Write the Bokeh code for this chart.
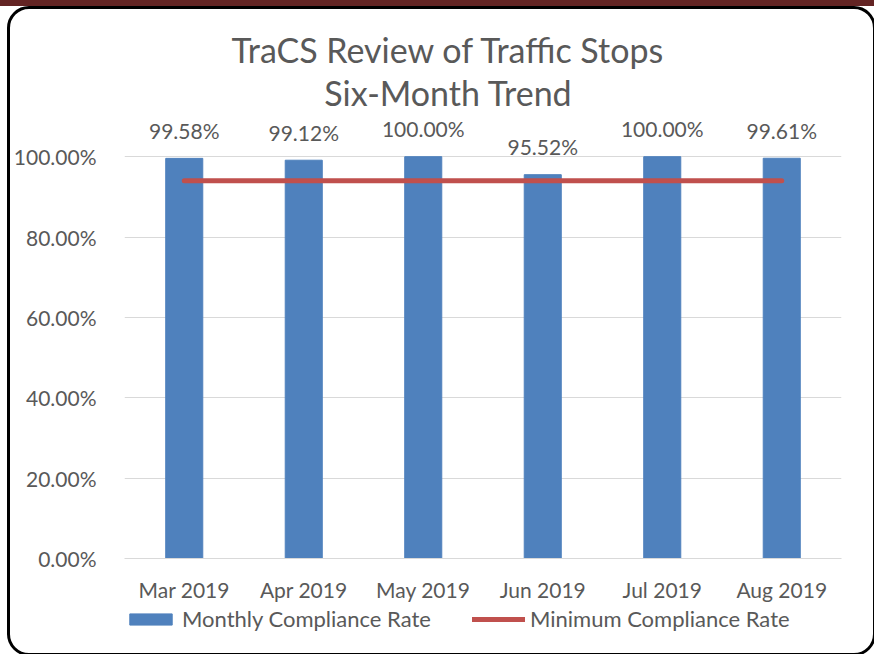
from bokeh.plotting import figure
from bokeh.models import (FactorRange, FixedTicker, NumeralTickFormatter, Legend,
                          LegendItem, Div)
from bokeh.layouts import column
from bokeh.core.properties import value
from bokeh.embed import file_html
from bokeh.resources import INLINE

# ---- data ----
months = ["Mar 2019", "Apr 2019", "May 2019", "Jun 2019", "Jul 2019", "Aug 2019"]
compliance = [0.9958, 0.9912, 1.0000, 0.9552, 1.0000, 0.9961]
compliance_labels = ["99.58%", "99.12%", "100.00%", "95.52%", "100.00%", "99.61%"]
minimum = [0.94, 0.94, 0.94, 0.94, 0.94, 0.94]
y_ticks = [0.0, 0.2, 0.4, 0.6, 0.8, 1.0]
title_lines = ["TraCS Review of Traffic Stops", "Six-Month Trend"]
series_names = ["Monthly Compliance Rate", "Minimum Compliance Rate"]

FONT = "Lato"
TXT = "#595959"
BAR = "#4f81bd"
RED = "#c0504d"

FL, FRM = 112, 32        # left/right border around plot frames
FW, FH = 717, 442        # main plot frame size
TITLE_H = 107            # title strip height
BOT = 42                 # space for x tick labels
LEG_H = 49               # legend strip height


def strip(height, x_range, y_range):
    f = figure(frame_width=FW, frame_height=height, x_range=x_range, y_range=y_range,
               x_axis_type=None, y_axis_type=None, output_backend="svg",
               toolbar_location=None, title=None,
               min_border_left=FL, min_border_right=FRM,
               min_border_top=0, min_border_bottom=0,
               border_fill_color=None, background_fill_color=None)
    f.outline_line_color = None
    f.grid.visible = False
    return f


# ---- title strip (x, y in pixels of the strip's frame) ----
pt = strip(TITLE_H, (0, FW), (0, TITLE_H))
pt.text(x=[324, 324], y=[67, 24], text=title_lines, text_align="center",
        text_baseline="alphabetic", text_font=value(FONT), text_font_size="34px",
        text_color=TXT)

# ---- main chart ----
p = figure(frame_width=FW, frame_height=FH,
           x_range=FactorRange(*months, range_padding=0),
           y_range=(0, 1.1), output_backend="svg", toolbar_location=None,
           min_border_left=FL, min_border_right=FRM,
           min_border_top=0, min_border_bottom=BOT,
           background_fill_color="white", border_fill_color=None, title=None)
p.outline_line_color = None

p.vbar(x=months, top=compliance, width=0.31, fill_color=BAR, line_color=BAR)
p.line(x=months, y=minimum, line_color=RED, line_width=5, line_cap="round")
p.text(x=months, y=compliance, text=compliance_labels, text_align="center",
       text_baseline="alphabetic", y_offset=-28, text_font=value(FONT),
       text_font_size="21px", text_color=TXT)

p.yaxis.ticker = FixedTicker(ticks=y_ticks)
p.yaxis.formatter = NumeralTickFormatter(format="0.00%")
p.yaxis.axis_line_color = None
p.yaxis.major_tick_line_color = None
p.yaxis.minor_tick_line_color = None
p.yaxis.major_label_standoff = 22
p.xaxis.axis_line_color = "#d9d9d9"
p.xaxis.major_tick_line_color = None
p.xaxis.major_label_standoff = 12
for ax in (p.xaxis[0], p.yaxis[0]):
    ax.major_label_text_font = FONT
    ax.major_label_text_font_size = "21px"
    ax.major_label_text_color = TXT
p.xgrid.grid_line_color = None
p.ygrid.grid_line_color = "#d9d9d9"
p.ygrid.ticker = FixedTicker(ticks=y_ticks)

# ---- legend strip (hidden proxy renderers carry the legend styles) ----
pl = strip(LEG_H, FactorRange(*months, range_padding=0), (0, 1.1))
r_bar = pl.vbar(x=months, top=compliance, width=0.31, fill_color=BAR,
                line_color=BAR, visible=False)
r_line = pl.line(x=months, y=minimum, line_color=RED, line_width=5,
                 line_cap="round", visible=False)
legend = Legend(items=[LegendItem(label=series_names[0], renderers=[r_bar]),
                       LegendItem(label=series_names[1], renderers=[r_line])],
                orientation="horizontal", location=(0, 21),
                padding=0, margin=0, spacing=41, glyph_width=53, glyph_height=14,
                label_standoff=5, border_line_color=None, background_fill_alpha=0,
                inactive_fill_alpha=0,
                label_text_font=FONT, label_text_font_size="22px",
                label_text_color=TXT)
pl.add_layout(legend, "center")

band = Div(width=874, height=6, margin=0,
           styles={"background-color": "#632423"})
frame_box = column(pt, p, pl, spacing=0,
                   styles={"border": "3px solid black", "border-radius": "22px",
                           "margin-left": "7px"})
layout = column(band, frame_box, spacing=0)

open("out.html", "w").write(file_html(layout, INLINE))
